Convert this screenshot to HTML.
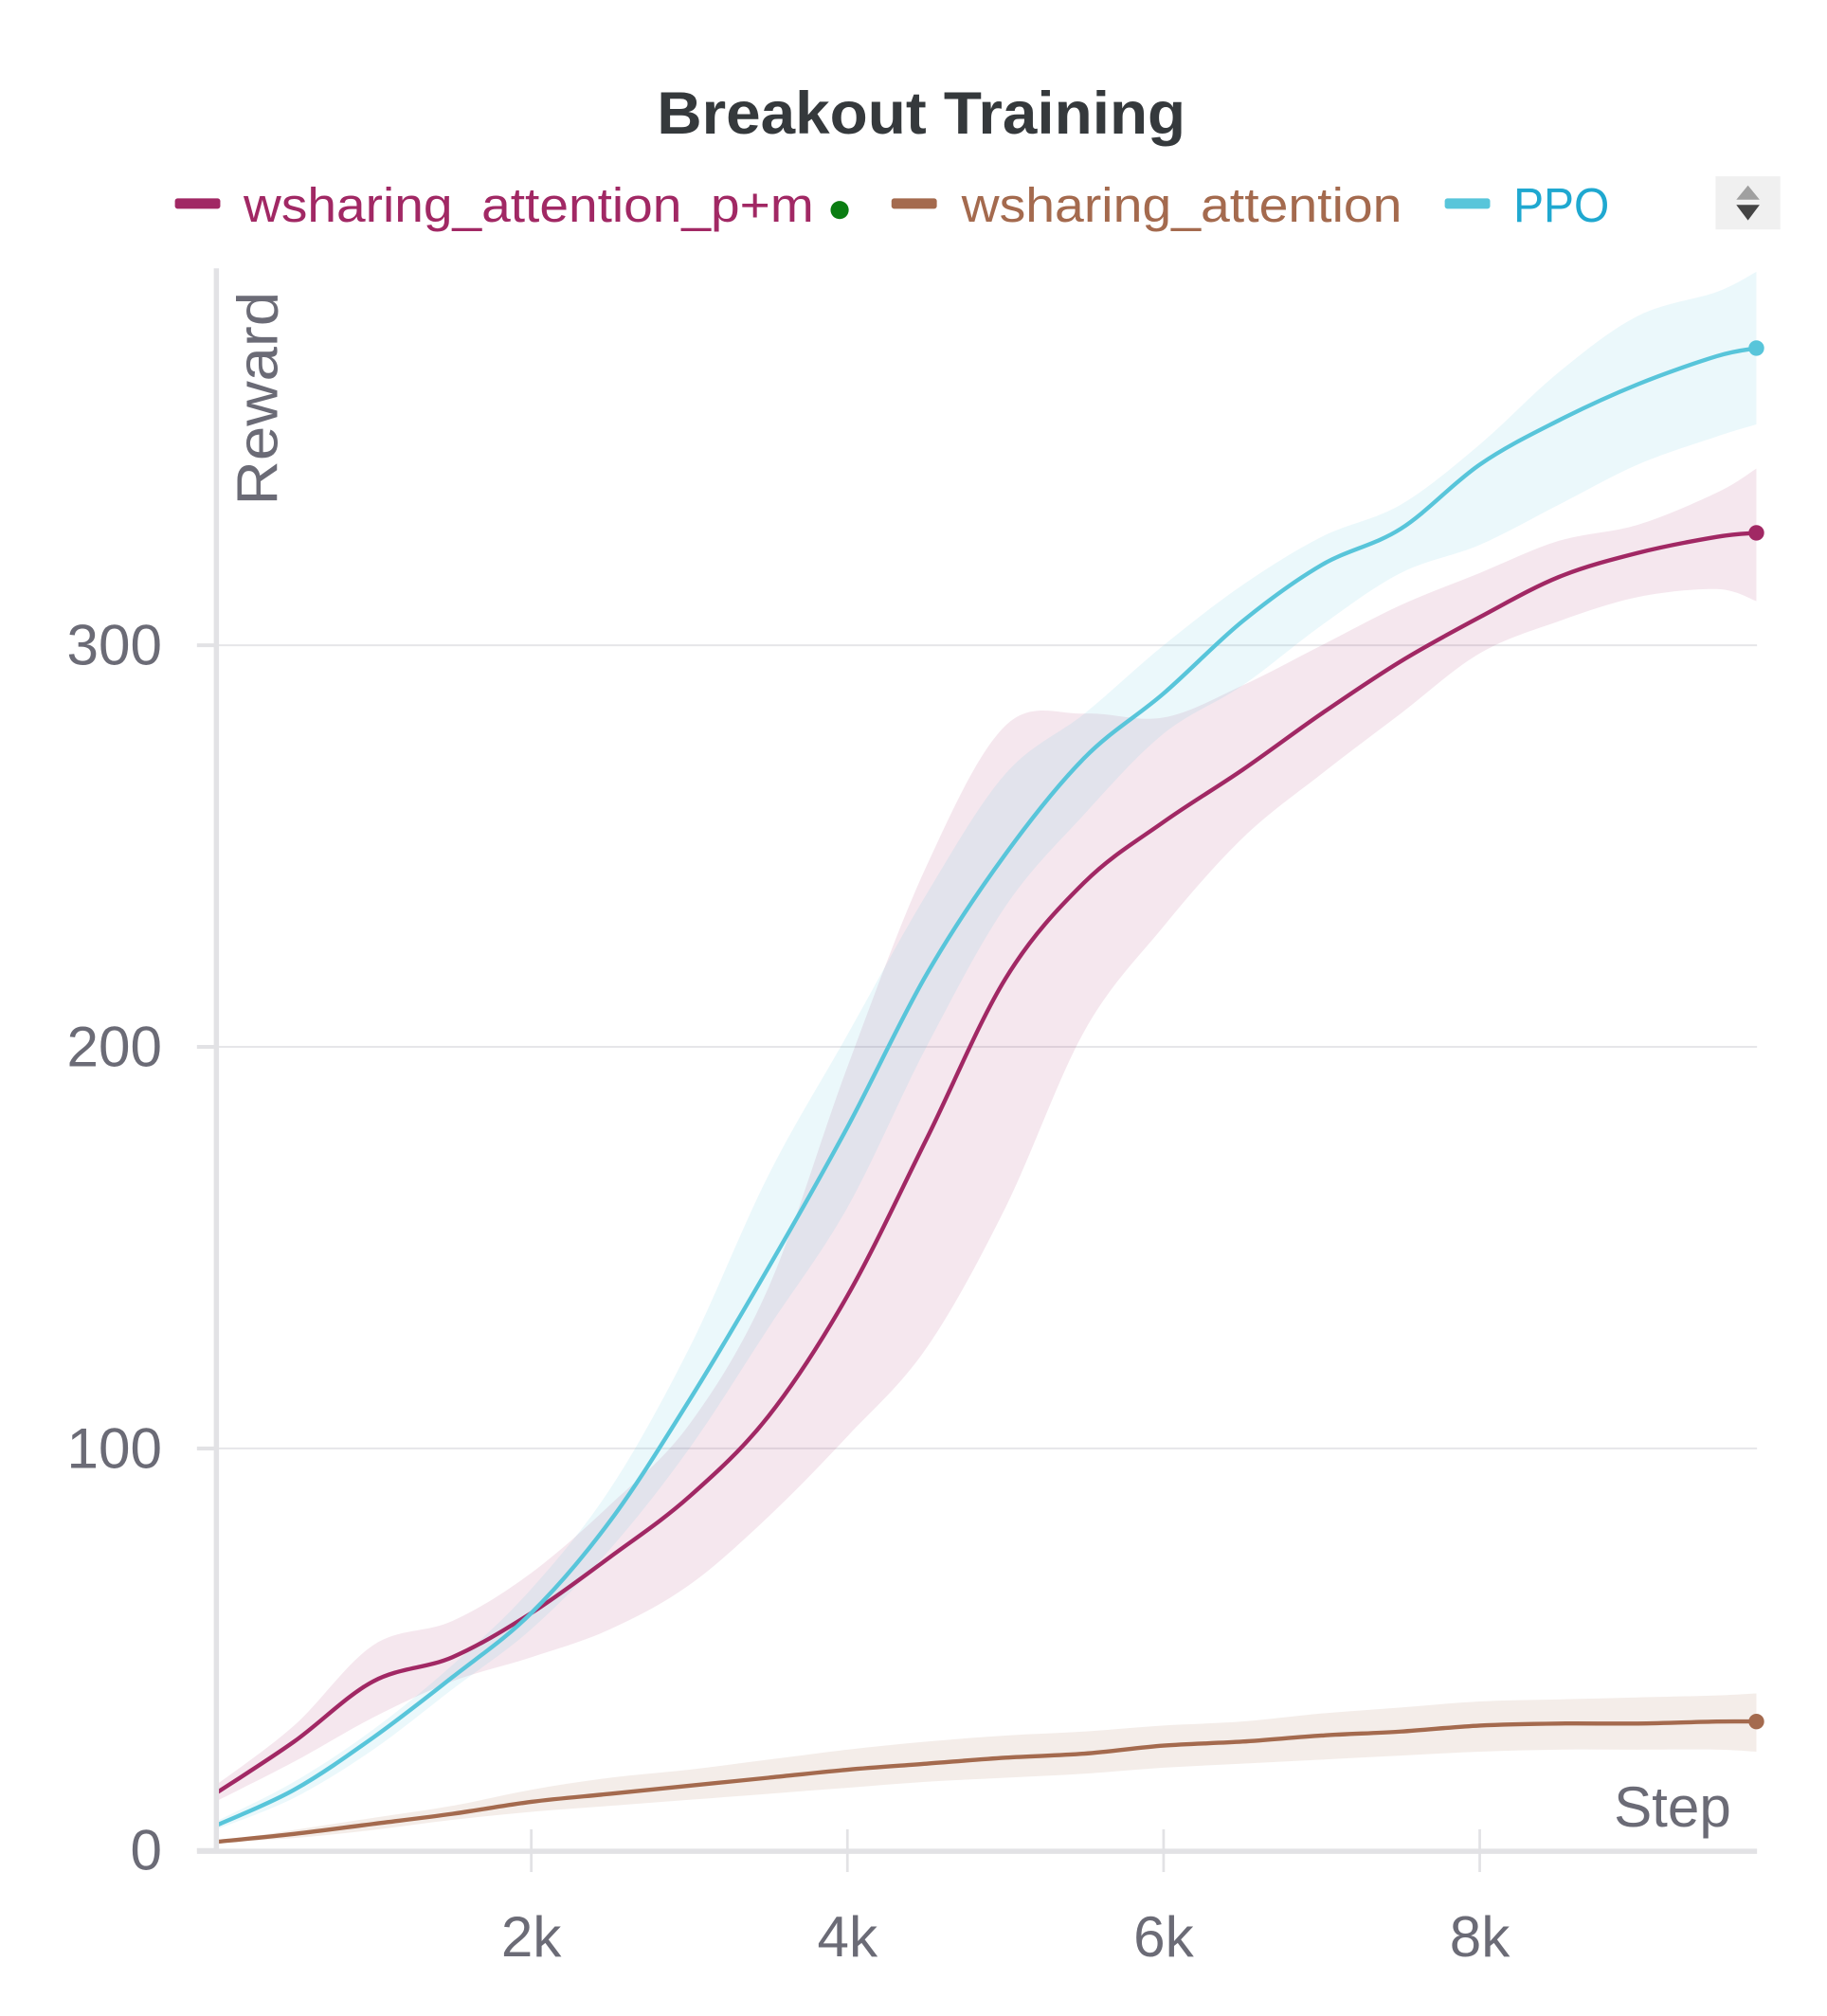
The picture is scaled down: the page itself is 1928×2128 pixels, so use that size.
<!DOCTYPE html>
<html><head><meta charset="utf-8"><style>
html,body{margin:0;padding:0;background:#fff;}
svg{display:block;font-family:"Liberation Sans",sans-serif;}
</style></head><body>
<svg id="chart" width="1928" height="2128" viewBox="0 0 1410 1556" xmlns="http://www.w3.org/2000/svg">
<text x="507" y="103" textLength="408" lengthAdjust="spacingAndGlyphs" font-size="46" font-weight="bold" fill="#35393c">Breakout Training</text>
<g>
 <g>
  <rect x="135" y="153" width="35" height="8" rx="2" fill="#a12864"/>
  <text x="188" y="171" font-size="37" textLength="440" lengthAdjust="spacingAndGlyphs" fill="#a12864">wsharing_attention_p+m</text>
  <circle cx="648" cy="162" r="7" fill="#0a7d12"/>
 </g>
 <g>
  <rect x="688" y="153" width="35" height="8" rx="2" fill="#a46a4e"/>
  <text x="742" y="171" font-size="37" textLength="340" lengthAdjust="spacingAndGlyphs" fill="#a46a4e">wsharing_attention</text>
 </g>
 <g>
  <rect x="1115" y="153" width="35" height="8" rx="2" fill="#58c5da"/>
  <text x="1168" y="171" font-size="37" textLength="74" lengthAdjust="spacingAndGlyphs" fill="#1fa8d0">PPO</text>
 </g>
 <g>
  <rect x="1324" y="136" width="50" height="41" fill="#f0f0f0"/>
  <path d="M1349 143 L1358 154 L1340 154 Z" fill="#a0a0a0"/>
  <path d="M1340 158 L1358 158 L1349 170 Z" fill="#444"/>
 </g>
</g>
<g id="grid"></g>
<g id="bands"></g>
<g id="lines"></g>
<g id="axes"></g>
<text transform="translate(214,390) rotate(-90)" font-size="44" textLength="165" lengthAdjust="spacingAndGlyphs" fill="#6b6b76">Reward</text>
<text x="1336" y="1410" text-anchor="end" font-size="44" fill="#6b6b76">Step</text>
</svg>
<script>
const steps = [0,500,1000,1500,2000,2500,3000,3500,4000,4500,5000,5500,6000,6500,7000,7500,8000,8500,9000,9500,9750];
const pmMean = [14,27,42,48,59,73,88,108,138,177,217,241,256,269,283,296,307,317,323,327,328];
const pmUpper = [16,31,51,57,69,86,106,140,195,245,280,283,282,290,300,310,318,326,330,338,344];
const pmLower = [12,22,33,42,48,55,66,83,103,125,160,204,230,252,268,283,298,306,312,314,311];
const ppoMean = [6,15,28,43,59,82,112,145,180,218,248,272,288,306,320,329,345,356,365,372,374];
const ppoUpper = [7,17,30,46,65,90,125,168,203,238,268,283,300,315,327,335,350,368,382,388,393];
const ppoLower = [5,13,25,40,55,75,100,130,160,200,235,258,278,290,305,318,325,335,345,352,355];
const waMean = [2,4,6.5,9,12,14,16,18,20,21.5,23,24,26,27,28.5,29.5,31,31.5,31.5,32,32];
const waUpper = [2,5,8,11,15,18,20,22.5,25,27,28.5,29.5,31,32,34,35.5,37,37.5,38,38.5,39];
const waLower = [2,3,5,7.5,9.5,11,12.5,14,15.5,17,18,19,20.5,21.5,22.5,23.5,24.5,25,25,25,24.5];
const yTicks = [0,100,200,300];
const xTicks = [2000,4000,6000,8000];
const xTickLabels = ["2k","4k","6k","8k"];

const NS="http://www.w3.org/2000/svg";
const X0=166, XS=0.122, Y0=1428, YS=3.1;
const xs = s => X0 + s*XS;
const ys = v => Y0 - v*YS;
function mk(tag, attrs, parent){const e=document.createElementNS(NS,tag);for(const k in attrs)e.setAttribute(k,attrs[k]);parent.appendChild(e);return e;}
function curve(pts, move){
  let d = move ? `M${pts[0][0]},${pts[0][1]}` : `L${pts[0][0]},${pts[0][1]}`;
  for(let i=0;i<pts.length-1;i++){
    const p0=pts[Math.max(0,i-1)],p1=pts[i],p2=pts[i+1],p3=pts[Math.min(pts.length-1,i+2)];
    const c1=[p1[0]+(p2[0]-p0[0])/6,p1[1]+(p2[1]-p0[1])/6];
    const c2=[p2[0]-(p3[0]-p1[0])/6,p2[1]-(p3[1]-p1[1])/6];
    d+=` C${c1[0]},${c1[1]} ${c2[0]},${c2[1]} ${p2[0]},${p2[1]}`;
  }
  return d;
}
const grid=document.getElementById('grid'), bands=document.getElementById('bands'), lines=document.getElementById('lines'), axes=document.getElementById('axes');
yTicks.forEach(v=>{
  if(v>0){
    const g=mk('line',{x1:167,x2:1356,y1:ys(v),y2:ys(v),stroke:'#e6e6e9','stroke-width':1.5},grid);
    
    
  }
  const t=mk('line',{x1:152,x2:167,y1:ys(v),y2:ys(v),stroke:'#e2e2e5','stroke-width':3},axes);
  
  
  const l=mk('text',{x:125,y:ys(v)+15,'text-anchor':'end','font-size':44,fill:'#6b6b76'},axes);
  l.textContent=v;
  
  
});
xTicks.forEach((s,i)=>{
  const t=mk('line',{x1:xs(s),x2:xs(s),y1:1412,y2:1445,stroke:'#e2e2e5','stroke-width':2},axes);
  
  
  const l=mk('text',{x:xs(s),y:1510,'text-anchor':'middle','font-size':44,fill:'#6b6b76'},axes);
  l.textContent=xTickLabels[i];
  
  
});
const ax1=mk('line',{x1:167,x2:167,y1:207,y2:1430,stroke:'#e2e2e5','stroke-width':4},axes);


const ax2=mk('line',{x1:152,x2:1356,y1:1429,y2:1429,stroke:'#e2e2e5','stroke-width':4},axes);



const series=[
  {name:'wsharing-attention',mean:waMean,up:waUpper,lo:waLower,color:'#a46a4e',band:'rgba(164,106,78,0.12)'},
  {name:'wsharing-attention-pm',mean:pmMean,up:pmUpper,lo:pmLower,color:'#a12864',band:'rgba(161,40,100,0.11)'},
  {name:'ppo',mean:ppoMean,up:ppoUpper,lo:ppoLower,color:'#58c5da',band:'rgba(88,197,218,0.12)'}
];
series.forEach(sr=>{
  const up=steps.map((s,i)=>[xs(s),ys(sr.up[i])]);
  const lo=steps.map((s,i)=>[xs(s),ys(sr.lo[i])]).reverse();
  const b=mk('path',{d:curve(up,true)+' '+curve(lo,false)+' Z',fill:sr.band,stroke:'none'},bands);
  
  
});
series.forEach(sr=>{
  const pts=steps.map((s,i)=>[xs(s),ys(sr.mean[i])]);
  const p=mk('path',{d:curve(pts,true),fill:'none',stroke:sr.color,'stroke-width':3.2,'stroke-linejoin':'round'},lines);
  
  
  const last=pts[pts.length-1];
  const c=mk('circle',{cx:last[0],cy:last[1],r:6,fill:sr.color},lines);
  
  
});
</script>
</body></html>
